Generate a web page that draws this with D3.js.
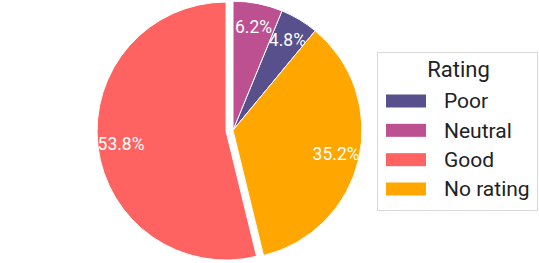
<!DOCTYPE html>
<html><head><meta charset="utf-8">
<script src="https://cdn.jsdelivr.net/npm/d3@7"></script>
<style>body{margin:0;background:#fff;} svg{display:block;font-family:Roboto, sans-serif;}</style>
</head><body>
<svg id="c" width="539" height="263"></svg>
<script>
const categories = ["Poor", "Neutral", "Good", "No rating"];
const values = [4.8, 6.2, 53.8, 35.2];
const colors = ["#58508d", "#bc5090", "#ff6361", "#ffa600"];
const pieOrder = ["Neutral", "Poor", "No rating", "Good"];
const pulled = ["Good"];
const legendTitle = "Rating";

const svg = d3.select("#c");
const cx = 233, cy = 130.2, R = 129, pull = 7;
const data = categories.map((c, i) => ({cat: c, value: values[i], color: colors[i]}));
const pie = d3.pie().value(d => d.value)
  .sort((a, b) => pieOrder.indexOf(a.cat) - pieOrder.indexOf(b.cat));
const arcs = pie(data);
const arc = d3.arc().innerRadius(0).outerRadius(R);
const labelArc = d3.arc().innerRadius(R * 0.82).outerRadius(R * 0.82);

const g = svg.append("g").attr("transform", `translate(${cx},${cy})`);
const slices = g.selectAll("g.slice").data(arcs).join("g").attr("class", "slice")
  .attr("transform", d => {
    if (!pulled.includes(d.data.cat)) return null;
    const a = (d.startAngle + d.endAngle) / 2;
    return `translate(${pull * Math.sin(a)},${-pull * Math.cos(a)})`;
  });
slices.append("path").attr("d", arc).attr("fill", d => d.data.color)
  .attr("stroke", "#fff").attr("stroke-width", 1);
slices.append("text")
  .attr("transform", d => `translate(${labelArc.centroid(d)})`)
  .attr("text-anchor", "middle").attr("dy", "0.35em")
  .attr("fill", "#fff").attr("font-size", 17.5)
  .text(d => d.data.value.toFixed(1) + "%");

// legend
const lg = svg.append("g");
lg.append("rect").attr("x", 377.5).attr("y", 52.5).attr("width", 160).attr("height", 158)
  .attr("fill", "#fff").attr("stroke", "#d9d9d9").attr("stroke-width", 1);
lg.append("text").attr("x", 458.5).attr("y", 77).attr("text-anchor", "middle")
  .attr("font-size", 22).attr("fill", "#222").text(legendTitle);
const rowY = d3.scalePoint().domain(categories).range([101, 189]);
const items = lg.selectAll("g.item").data(data).join("g").attr("class", "item")
  .attr("transform", d => `translate(0,${rowY(d.cat)})`);
items.append("rect").attr("x", 386).attr("y", -6.5).attr("width", 40).attr("height", 13)
  .attr("fill", d => d.color);
items.append("text").attr("x", 444).attr("y", 0).attr("dy", "0.35em")
  .attr("font-size", 21).attr("fill", "#222").text(d => d.cat);
</script>
</body></html>
